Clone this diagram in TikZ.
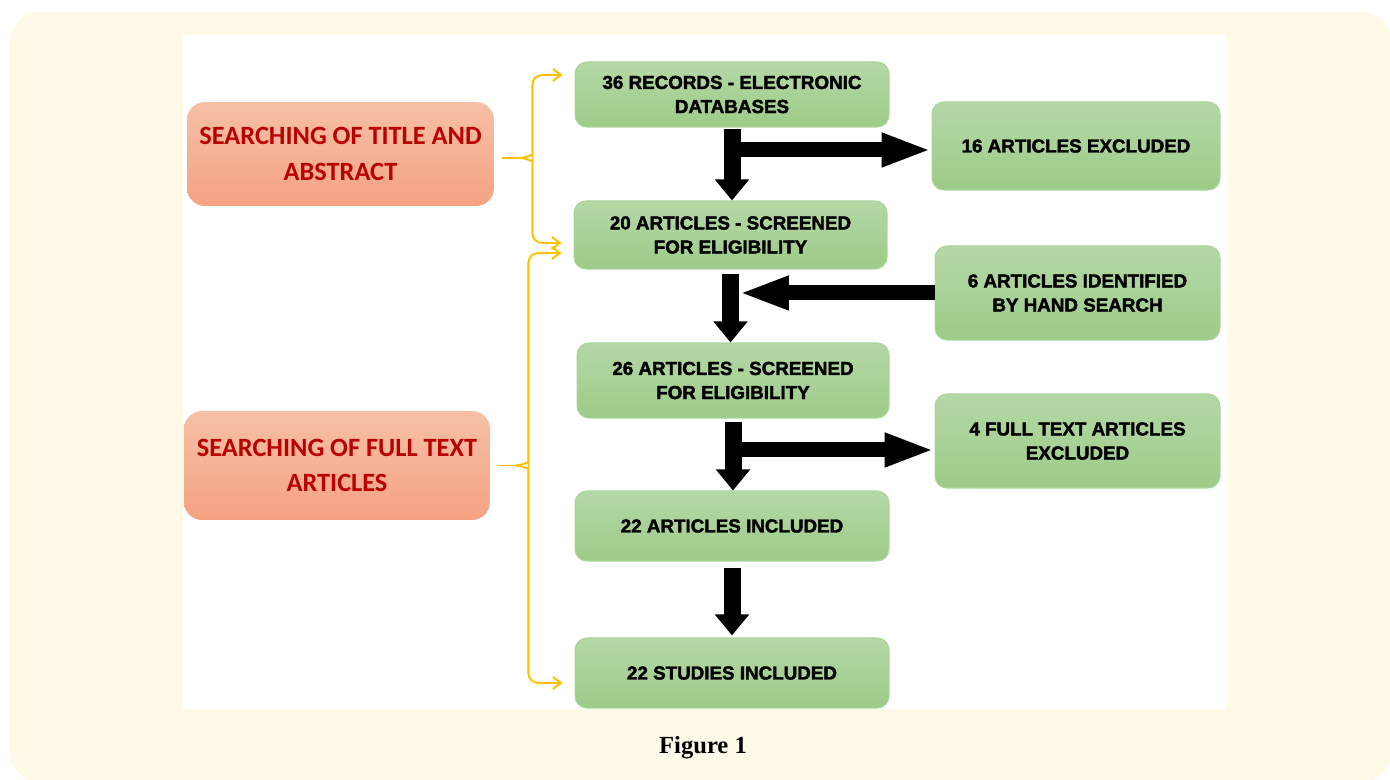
\documentclass[tikz,border=0pt]{standalone}
\usepackage{fontspec}
\usepackage{tikz}
\usetikzlibrary{arrows.meta}
\setmainfont{Liberation Serif}
\newfontfamily\caixafont{Liberation Sans}[BoldFeatures={FakeBold=2}]
\newfontfamily\buscafont{Carlito}

\definecolor{creme}{HTML}{FFFAE8}
\definecolor{verdetopo}{HTML}{B5D8A6}
\definecolor{verdebase}{HTML}{9DCB88}
\definecolor{verdeborda}{HTML}{AAD49A}
\definecolor{laranjatopo}{HTML}{F6C0A6}
\definecolor{laranjabase}{HTML}{F5A282}
\definecolor{vermelho}{HTML}{BA0000}
\definecolor{ouro}{HTML}{FFC000}

\tikzset{
  caixa/.style={rectangle, rounded corners=0.24cm, top color=verdetopo, bottom color=verdebase,
    draw=verdeborda, line width=0.6pt, align=center, inner sep=0pt,
    font=\caixafont\bfseries\fontsize{10.7}{13.7}\selectfont, minimum width=6.28cm},
  busca/.style={rectangle, rounded corners=0.36cm, top color=laranjatopo, bottom color=laranjabase,
    align=center, inner sep=0pt, text=vermelho,
    font=\buscafont\bfseries\fontsize{15}{20}\selectfont},
  seta/.style={line width=0.34cm, -{Triangle[length=0.42cm,width=0.66cm]}},
  setah/.style={line width=0.3cm, -{Triangle[length=1.0cm,width=0.62cm]}},
  chave/.style={draw=ouro, line width=1.1pt, rounded corners=0.2cm},
  ponta/.style={-{Straight Barb[length=0.16cm,width=0.24cm]}},
}

\begin{document}
\begin{tikzpicture}[x=0.02cm,y=-0.02cm]
				\useasboundingbox (0,0) rectangle (1390,780);
				% Fundo
				\fill[creme, rounded corners=0.6cm] (10,12) rectangle (1392,782);
				\fill[white] (183,35) rectangle (1227,709);
				
				% Caixas de busca
				\node[busca, minimum width=6.14cm, minimum height=2.08cm] (titulo) at (340.5,154) {SEARCHING OF TITLE AND\\ABSTRACT};
				\node[busca, minimum width=6.12cm, minimum height=2.18cm] (texto) at (337,465.5) {SEARCHING OF FULL TEXT\\ARTICLES};
				
				% Coluna central
				\node[caixa, minimum height=1.3cm] (reg) at (732,94.5) {36 RECORDS - ELECTRONIC\\DATABASES};
				\node[caixa, minimum width=6.26cm, minimum height=1.36cm] (tri) at (730.5,235) {20 ARTICLES - SCREENED\\FOR ELIGIBILITY};
				\node[caixa, minimum width=6.24cm, minimum height=1.5cm] (art26) at (733,380.5) {26 ARTICLES - SCREENED\\FOR ELIGIBILITY};
				\node[caixa, minimum height=1.4cm] (incl) at (732,526) {22 ARTICLES INCLUDED};
				\node[caixa, minimum height=1.4cm] (estudos) at (732,673) {22 STUDIES INCLUDED};
				
				% Coluna da direita
				\node[caixa, minimum width=5.76cm, minimum height=1.76cm] (exc1) at (1076,146) {16 ARTICLES EXCLUDED};
				\node[caixa, minimum width=5.7cm, minimum height=1.88cm] (mao) at (1077.5,293) {6 ARTICLES IDENTIFIED\\BY HAND SEARCH};
				\node[caixa, minimum width=5.7cm, minimum height=1.88cm] (exc2) at (1077.5,441) {4 FULL TEXT ARTICLES\\EXCLUDED};
				
				% Setas pretas
				\coordinate (p1) at ([yshift=-0.08cm]exc1.west);
				\coordinate (p3) at ([yshift=-0.18cm]exc2.west);
				\draw[setah] (reg.south |- p1) -- (p1);
				\draw[seta] ([yshift=-0.02cm]reg.south) -- (reg.south |- tri.north);
				\draw[setah] (mao.west) -- ([xshift=0.17cm]tri.south |- mao.west);
				\draw[seta] ([yshift=-0.08cm]tri.south) -- (tri.south |- art26.north);
				\draw[setah] (art26.south |- p3) -- (p3);
				\draw[seta] ([yshift=-0.06cm]art26.south) -- (art26.south |- incl.north);
				\draw[seta] ([yshift=-0.12cm]incl.south) -- ([yshift=0.04cm]incl.south |- estudos.north);
				
				% Chaves amarelas
				\draw[chave] ([xshift=0.16cm,yshift=-0.08cm]titulo.east) -- ++(17,0) coordinate (c1);
				\draw[chave,ponta] (c1) .. controls +(9,0) and +(0,7) .. ++(13,-12) |- ([xshift=-0.24cm,yshift=0.39cm]reg.west);
				\draw[chave,ponta] (c1) .. controls +(9,0) and +(0,-7) .. ++(13,12) |- ([xshift=-0.24cm,yshift=-0.16cm]tri.west);
				\draw[chave] ([xshift=0.14cm]texto.east) -- ++(18,0) coordinate (c2);
				\draw[chave,ponta] (c2) .. controls +(9,0) and +(0,7) .. ++(13,-12) |- ([xshift=-0.24cm,yshift=-0.36cm]tri.west);
				\draw[chave,ponta] (c2) .. controls +(9,0) and +(0,-7) .. ++(13,12) |- ([xshift=-0.24cm,yshift=-0.2cm]estudos.west);
				
				% Legenda
				\node[font=\bfseries\fontsize{14}{16}\selectfont] (legenda) at (703,748) {Figure 1};
			\end{tikzpicture}
\end{document}
